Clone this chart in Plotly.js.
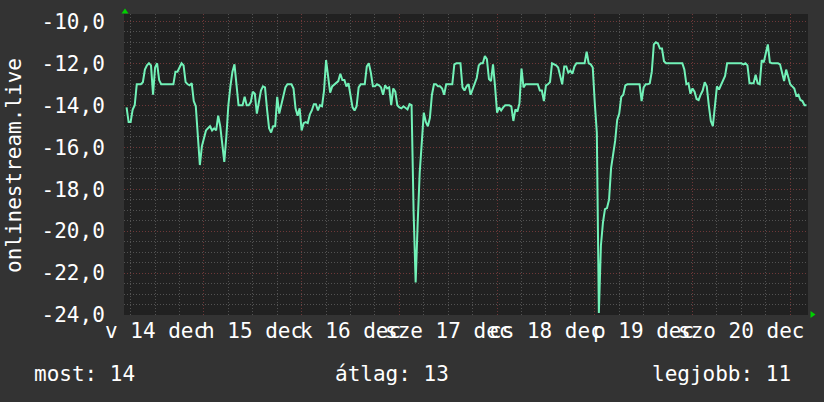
<!DOCTYPE html>
<html><head><meta charset="utf-8">
<script src="https://cdn.plot.ly/plotly-3.0.1.min.js"></script>
<style>html,body{margin:0;padding:0;background:#333333;}#chart{width:824px;height:402px;}</style>
</head><body><div id="chart"></div>
<script>
// ---- data ----
const seriesName = 'onlinestream.live';
const stepMinutes = 30;
const segmentStarts = ['2014-12-14 05:00','2014-12-15 00:00','2014-12-16 00:00','2014-12-17 00:00',
                       '2014-12-18 00:00','2014-12-19 00:00','2014-12-20 00:00','2014-12-21 00:00'];
const dec14 = [-14.1,-14.8,-14.8,-14.2,-14.0,-13.0,-13.0,-13.0,-12.9,-12.3,-12.1,-12.0,-12.1,-13.5,-12.2,-12.0,-12.8,
  -13.0,-13.0,-13.0,-13.0,-13.0,-13.0,-13.0,-12.4,-12.4,-12.2,-12.0,-12.1,-12.9,-13.0,-13.05,-12.95,-13.8,-14.05,-15.4,-16.85,-15.95];
const dec15 = [-15.6,-15.2,-15.1,-15.0,-15.2,-15.1,-15.2,-14.5,-15.0,-15.8,
  -16.7,-15.5,-14.0,-13.1,-12.4,-12.05,-13.0,-14.0,-14.0,-14.0,
  -13.6,-14.0,-14.0,-13.85,-13.35,-13.45,-14.4,-13.9,-13.3,-13.1,
  -13.15,-14.2,-15.1,-15.3,-15.0,-15.0,-13.6,-14.4,-13.95,-13.6,
  -13.15,-13.0,-13.0,-13.0,-13.2,-14.15,-14.5,-14.15];
const dec16 = [-15.2,-14.85,-14.8,-14.85,-14.45,-14.25,-13.95,-13.95,-14.25,-14.0,
  -14.05,-13.3,-11.85,-12.75,-13.4,-13.1,-13.0,-12.95,-12.85,-12.5,
  -12.8,-12.8,-13.1,-12.95,-13.5,-14.1,-14.25,-14.05,-13.15,-13.0,
  -13.0,-13.0,-12.15,-12.0,-12.45,-13.1,-13.1,-13.0,-13.05,-13.15,
  -13.5,-13.05,-13.2,-13.15,-14.0,-13.2,-13.35,-14.0];
const dec17 = [-14.1,-14.15,-14.05,-14.15,-14.2,-13.95,-14.0,-19.1,-22.45,-19.6,
  -17.2,-15.8,-14.35,-14.8,-15.0,-14.6,-13.5,-13.0,-13.0,-13.1,
  -13.1,-13.2,-13.5,-13.0,-13.0,-13.0,-13.0,-12.05,-12.0,-12.0,
  -12.0,-13.15,-13.3,-13.1,-13.0,-13.5,-13.2,-13.0,-12.7,-12.1,
  -12.0,-12.0,-11.65,-11.8,-12.75,-12.85,-12.05,-13.1];
const dec18 = [-14.35,-14.1,-14.25,-14.1,-14.0,-14.0,-14.0,-14.05,-14.75,-14.2,
  -14.3,-13.9,-12.25,-13.15,-13.0,-13.0,-13.0,-13.0,-13.0,-13.0,
  -13.0,-13.3,-13.3,-13.8,-13.05,-13.0,-12.9,-12.0,-12.05,-12.1,
  -12.2,-12.65,-13.0,-12.15,-12.15,-12.45,-12.35,-12.5,-12.15,-12.0,
  -12.0,-12.0,-12.0,-12.0,-11.45,-12.0,-12.05,-12.2];
const dec19 = [-13.9,-15.3,-23.9,-20.7,-19.6,-18.95,-18.9,-18.5,-17.0,-16.4,
  -15.7,-14.7,-14.4,-13.6,-13.5,-13.05,-13.0,-13.0,-13.0,-13.0,
  -13.0,-13.0,-13.0,-13.8,-13.15,-13.0,-13.0,-12.95,-12.4,-11.1,
  -11.0,-11.05,-11.3,-11.3,-11.9,-12.0,-12.0,-12.0,-12.0,-12.0,
  -12.0,-12.0,-12.0,-12.0,-12.3,-13.0,-12.95,-13.45];
const dec20 = [-13.2,-13.35,-13.7,-13.75,-13.5,-13.3,-12.9,-13.1,-14.0,-14.75,
  -15.0,-14.0,-13.1,-13.25,-13.0,-12.8,-12.6,-12.0,-12.0,-12.0,
  -12.0,-12.0,-12.0,-12.0,-12.0,-12.05,-12.0,-12.1,-12.95,-12.95,
  -12.95,-12.55,-12.95,-13.0,-11.85,-11.95,-11.45,-11.1,-11.95,-12.0,
  -12.0,-12.0,-12.0,-12.05,-12.4,-12.85,-12.3,-12.7];
const dec21 = [-13.0,-13.1,-13.2,-13.55,-13.5,-13.75,-13.8,-14.0,-14.0];

const xRange = ['2014-12-14 04:22','2014-12-21 04:22'];
const dayLabels = ['v 14 dec','h 15 dec','k 16 dec','sze 17 dec','cs 18 dec','p 19 dec','szo 20 dec'];
const dayLabelDates = ['2014-12-14 12:00','2014-12-15 12:00','2014-12-16 12:00','2014-12-17 12:00',
                       '2014-12-18 12:00','2014-12-19 12:00','2014-12-20 12:00'];
const yTickVals = [-24,-22,-20,-18,-16,-14,-12,-10];
const yTickText = ['-24,0','-22,0','-20,0','-18,0','-16,0','-14,0','-12,0','-10,0'];
const statLabels = ['most','átlag','legjobb'];
const statValues = [14,13,11];

// ---- build ----
function parseT(s){const [d,t]=s.split(' ');const [Y,M,D]=d.split('-').map(Number);const [h,m]=t.split(':').map(Number);return Date.UTC(Y,M-1,D,h,m);}
function fmtT(ms){const d=new Date(ms);const p=n=>String(n).padStart(2,'0');
  return d.getUTCFullYear()+'-'+p(d.getUTCMonth()+1)+'-'+p(d.getUTCDate())+' '+p(d.getUTCHours())+':'+p(d.getUTCMinutes());}
const segments=[dec14,dec15,dec16,dec17,dec18,dec19,dec20,dec21];
const xs=[],ys=[];
segments.forEach((seg,i)=>{const t0=parseT(segmentStarts[i]);seg.forEach((v,k)=>{xs.push(fmtT(t0+k*stepMinutes*60000));ys.push(v);});});

const W=824,H=402,L=124,R=16,T=14,B=87;
const pw=W-L-R, ph=H-T-B;
const px=x=>(x-L)/pw, py=y=>(H-B-y)/ph;

const white='#ffffff';
const FS=21;
const annotations=[];
dayLabels.forEach((lab,i)=>annotations.push({xref:'x',yref:'paper',x:dayLabelDates[i],y:py(331),
  xanchor:'center',yanchor:'middle',text:lab,showarrow:false,font:{size:FS,color:white}}));
annotations.push({xref:'paper',yref:'paper',x:px(14),y:py(166),xanchor:'center',yanchor:'middle',textangle:-90,
  text:seriesName,showarrow:false,font:{size:FS,color:white}});
const statX=[px(32),px(392),px(793)], statAnchor=['left','center','right'];
statLabels.forEach((lab,i)=>annotations.push({xref:'paper',yref:'paper',x:statX[i],y:py(374),xanchor:statAnchor[i],
  yanchor:'middle',text:lab+': '+statValues[i],showarrow:false,font:{size:FS,color:white}}));

const arrowColor='#00d000';
const shapes=[
  {type:'path',xref:'paper',yref:'paper',layer:'above',fillcolor:arrowColor,line:{width:0},
   path:`M ${px(121.5)} ${py(13.5)} L ${px(128.5)} ${py(13.5)} L ${px(125)} ${py(8.5)} Z`},
  {type:'path',xref:'paper',yref:'paper',layer:'above',fillcolor:arrowColor,line:{width:0},
   path:`M ${px(810.5)} ${py(311)} L ${px(810.5)} ${py(318)} L ${px(815.5)} ${py(314.5)} Z`}
];

const majorGrid='#6e3838', minorGrid='#525252', dash='1px,2px';
const layout={
  width:W,height:H,margin:{l:L,r:R,t:T,b:B,pad:0},
  paper_bgcolor:'#333333',plot_bgcolor:'#212121',showlegend:false,
  font:{family:'DejaVu Sans Mono, monospace',size:FS,color:white},
  xaxis:{type:'date',range:xRange,showticklabels:false,ticks:'',tick0:'2014-12-15',dtick:86400000,
    showgrid:true,gridcolor:majorGrid,griddash:dash,gridwidth:1,zeroline:false,showline:false,fixedrange:true,
    minor:{tick0:'2014-12-15',dtick:21600000,showgrid:true,gridcolor:minorGrid,griddash:dash,gridwidth:1,ticks:''}},
  yaxis:{range:[-24,-9.65],tickmode:'array',tickvals:yTickVals,ticktext:yTickText,ticks:'outside',ticklen:14,
    tickcolor:'rgba(0,0,0,0)',tickfont:{size:FS,color:white},showgrid:true,gridcolor:majorGrid,griddash:dash,gridwidth:1,
    zeroline:false,showline:false,fixedrange:true,
    minor:{tick0:-24,dtick:0.5,showgrid:true,gridcolor:minorGrid,griddash:dash,gridwidth:1,ticks:''}},
  annotations,shapes
};
const trace={type:'scatter',mode:'lines',x:xs,y:ys,name:seriesName,line:{color:'#72f2b8',width:2},hoverinfo:'skip'};
Plotly.newPlot('chart',[trace],layout,{staticPlot:true,displayModeBar:false});
</script></body></html>
